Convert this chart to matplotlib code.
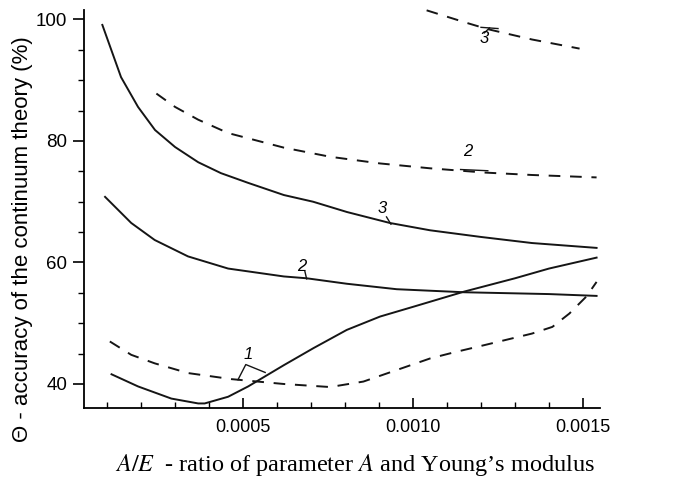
import matplotlib
matplotlib.use("Agg")
import matplotlib.pyplot as plt
from matplotlib.ticker import MultipleLocator, FixedLocator

plt.rcParams['font.family'] = ['Liberation Sans', 'DejaVu Sans']
plt.rcParams['mathtext.fontset'] = 'stix'

# curves (x = A/E, y = accuracy in %)
solid1_x = [0.000113, 0.000191, 0.000289, 0.000368, 0.000387, 0.000456, 0.000515, 0.00062,
            0.000707, 0.000805, 0.000903, 0.001, 0.00115, 0.0013, 0.0014, 0.00154]
solid1_y = [41.6, 39.6, 37.6, 36.8, 36.8, 37.9, 39.6, 43.1, 45.9, 48.9, 51.1, 52.7, 55.2, 57.4, 59.0, 60.8]

solid2_x = [0.000094, 0.000171, 0.00024, 0.000338, 0.000456, 0.00062, 0.000687, 0.000805,
            0.000952, 0.00115, 0.0014, 0.00154]
solid2_y = [70.8, 66.5, 63.7, 61.0, 59.0, 57.7, 57.4, 56.5, 55.6, 55.1, 54.8, 54.5]

solid3_x = [0.000086, 0.000141, 0.000191, 0.000241, 0.0003, 0.000368, 0.000435, 0.000515, 0.00062,
            0.000706, 0.000806, 0.000932, 0.00105, 0.0012, 0.00135, 0.00154]
solid3_y = [99.1, 90.5, 85.6, 81.8, 79.0, 76.5, 74.7, 73.1, 71.1, 70.0, 68.3, 66.5, 65.3, 64.2, 63.2, 62.4]

dashed1_x = [0.000108, 0.000171, 0.00024, 0.000338, 0.000466, 0.00062, 0.000756, 0.000854, 0.000952,
             0.00105, 0.00112, 0.00121, 0.00135, 0.00141, 0.00146, 0.00151, 0.00154]
dashed1_y = [47.0, 44.8, 43.4, 41.8, 40.8, 40.0, 39.5, 40.4, 42.3, 44.2, 45.2, 46.4, 48.3, 49.4, 51.6,
             54.4, 56.8]

dashed2_x = [0.000245, 0.0003, 0.000368, 0.000456, 0.00062, 0.000756, 0.000903, 0.00105, 0.00121,
             0.00135, 0.00154]
dashed2_y = [87.8, 85.6, 83.5, 81.3, 78.9, 77.4, 76.3, 75.5, 74.8, 74.4, 74.0]

dashed3_x = [0.00104, 0.00116, 0.00122, 0.00135, 0.00149]
dashed3_y = [101.5, 99.4, 98.4, 96.7, 95.2]

xticks = [0.0005, 0.0010, 0.0015]
xticklabels = ["0.0005", "0.0010", "0.0015"]
yticks = [40, 60, 80, 100]

fig = plt.figure(figsize=(6.73, 4.86), dpi=100)
ax = fig.add_axes([0.1248, 0.1605, 0.7667, 0.819])

lw = 1.4
ax.plot(solid1_x, solid1_y, color='#151515', lw=lw)
ax.plot(solid2_x, solid2_y, color='#151515', lw=lw)
ax.plot(solid3_x, solid3_y, color='#151515', lw=lw)
ax.plot(dashed1_x, dashed1_y, color='#151515', lw=lw, dashes=(6, 5))
ax.plot(dashed2_x, dashed2_y, color='#151515', lw=lw, dashes=(6, 5))
ax.plot(dashed3_x, dashed3_y, color='#151515', lw=lw, dashes=(6, 5), clip_on=False)

ax.set_xlim(0.000032, 0.00155)
ax.set_ylim(36.05, 101.56)

for s in ['top', 'right']:
    ax.spines[s].set_visible(False)
for s in ['left', 'bottom']:
    ax.spines[s].set_linewidth(1.3)

ax.xaxis.set_major_locator(FixedLocator(xticks))
ax.set_xticklabels(xticklabels)
ax.xaxis.set_minor_locator(MultipleLocator(0.0001))
ax.yaxis.set_major_locator(FixedLocator(yticks))
ax.yaxis.set_minor_locator(MultipleLocator(5))
ax.tick_params(axis='x', which='both', direction='in', labelsize=13, pad=8)
ax.tick_params(axis='x', which='major', length=7, width=1.2)
ax.tick_params(axis='x', which='minor', length=4, width=1)
ax.tick_params(axis='y', which='both', direction='out', labelsize=13.5, pad=4)
ax.tick_params(axis='y', which='major', length=8, width=1.2)
ax.tick_params(axis='y', which='minor', length=4, width=1)

# curve labels with little leader strokes
lab = dict(fontsize=12, style='italic', family='Liberation Sans', ha='center', va='center')
ax.text(0.000909, 68.9, "3", **lab)
ax.plot([0.000922, 0.000935], [67.5, 66.3], color='#151515', lw=1)
ax.text(0.000672, 59.4, "2", **lab)
ax.plot([0.000682, 0.000687], [58.5, 57.3], color='#151515', lw=1)
ax.text(0.00116, 78.3, "2", **lab)
ax.plot([0.00114, 0.00122], [75.3, 75.1], color='#151515', lw=1)
ax.text(0.00121, 96.8, "3", **lab)
ax.plot([0.00120, 0.00125], [98.7, 98.5], color='#151515', lw=1)
ax.plot([0.001225, 0.00121], [98.6, 97.8], color='#151515', lw=1)
ax.text(0.000515, 44.9, "1", **lab)
ax.plot([0.000485, 0.000508, 0.000565], [40.7, 43.2, 41.9], color='#151515', lw=1)

fig.text(0.033, 0.509, "Θ - accuracy of the continuum theory (%)", rotation=90,
         ha='center', va='center', fontsize=16, family='Liberation Sans')
fig.text(0.527, 0.043, r"$A/E$  - ratio of parameter $A$ and Young’s modulus",
         ha='center', va='center', fontsize=17.5, family='Liberation Serif')

fig.savefig("out.png", dpi=100)
